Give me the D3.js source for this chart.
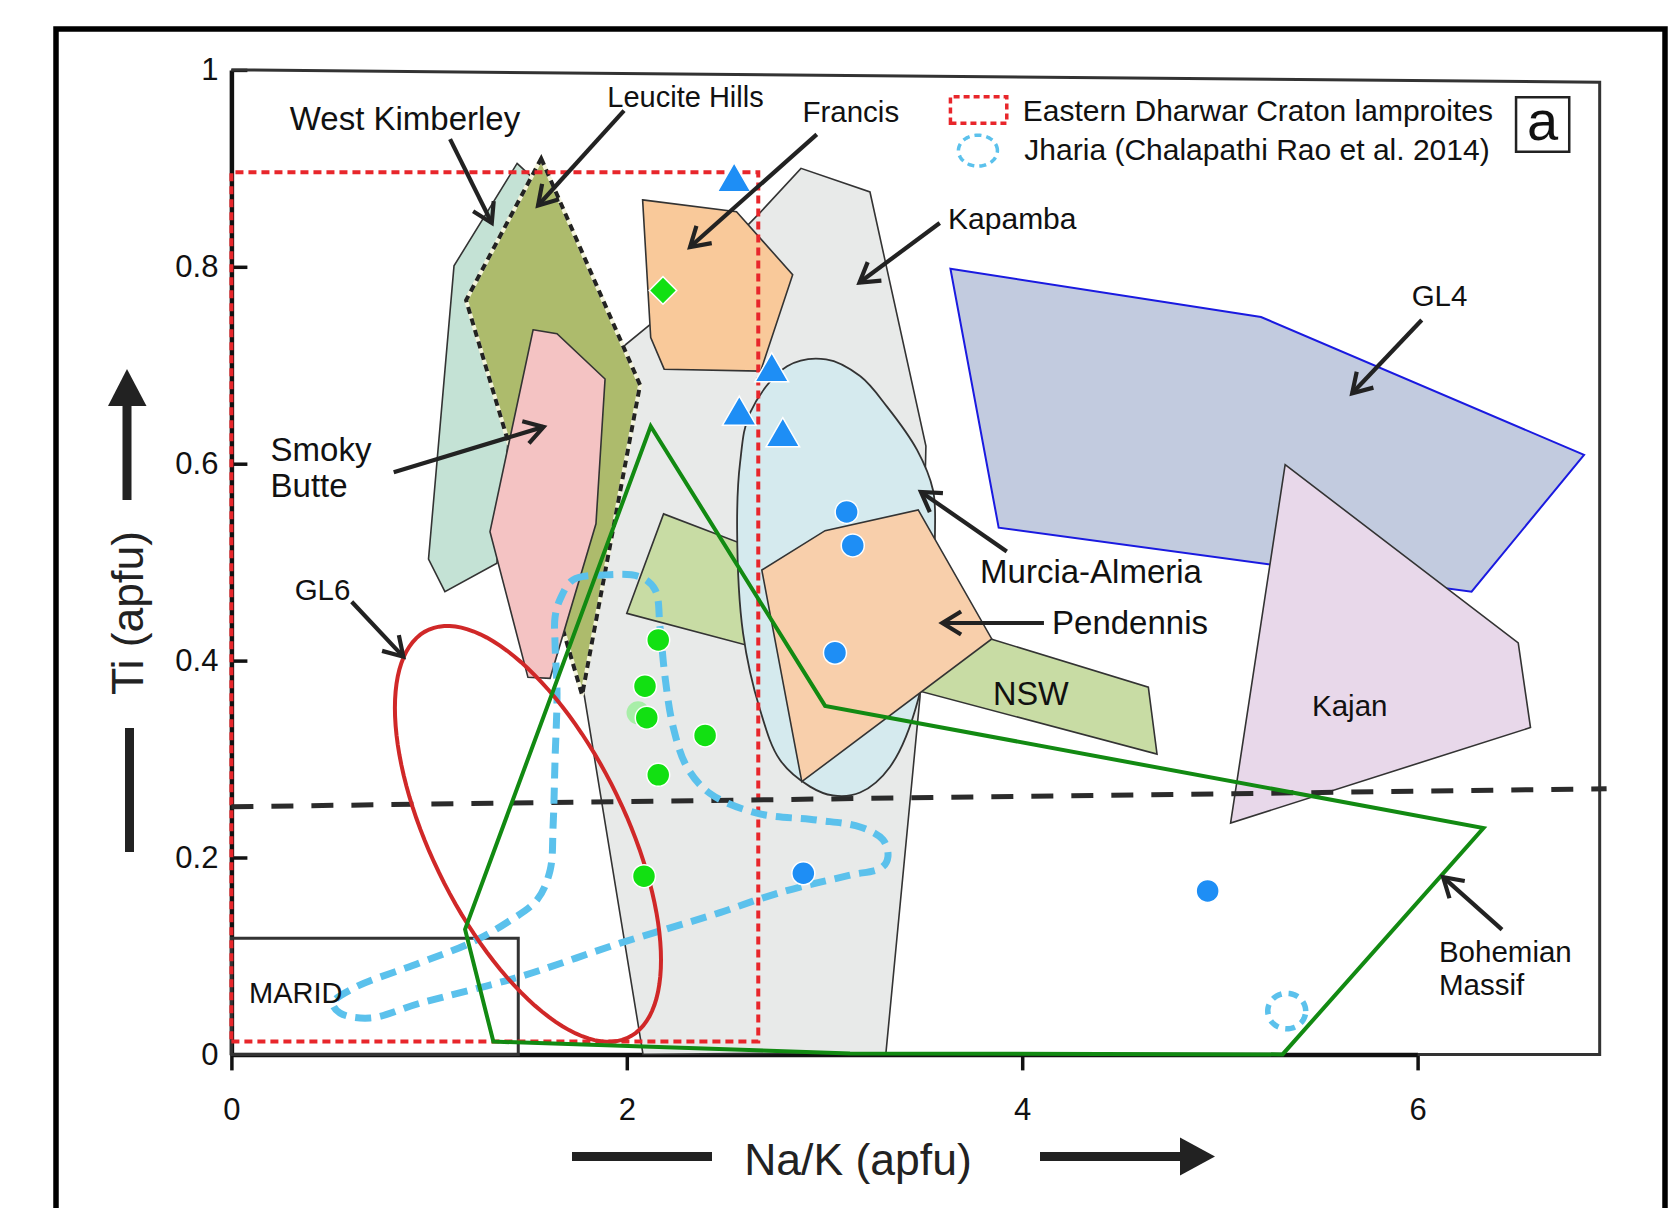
<!DOCTYPE html>
<html><head><meta charset="utf-8">
<script src="https://cdn.jsdelivr.net/npm/d3@7"></script>
<style>
html,body{margin:0;padding:0;background:#fff;}
svg{display:block;font-family:"Liberation Sans",Arial,Helvetica,sans-serif;}
</style></head><body>
<svg id="chart" width="1678" height="1208"></svg>
<script>
// ---------- field outlines, vertices as [Na/K, Ti] (apfu) ----------
const kapamba      = [[2.082,0.000],[1.778,0.373],[1.814,0.563],[1.970,0.717],[2.122,0.742],[2.674,0.855],[2.881,0.900],[3.230,0.876],[3.513,0.618],[3.483,0.363],[3.311,0.002]];
const westKimberley= [[1.445,0.905],[1.536,0.888],[1.409,0.644],[1.343,0.499],[1.080,0.470],[0.997,0.503],[1.126,0.801]];
const leuciteHills = [[1.567,0.910],[2.067,0.680],[1.774,0.365],[1.390,0.629],[1.187,0.766]];
const smokyButte   = [[1.526,0.736],[1.647,0.732],[1.890,0.686],[1.844,0.539],[1.612,0.382],[1.500,0.383],[1.308,0.531]];
const francis      = [[2.080,0.868],[2.555,0.856],[2.839,0.792],[2.677,0.694],[2.189,0.696],[2.121,0.728]];
const nsw          = [[2.000,0.448],[2.186,0.549],[3.842,0.422],[4.638,0.373],[4.682,0.305]];
const murciaAlmeria= [[3.008,0.706],[3.180,0.689],[3.316,0.658],[3.468,0.614],[3.549,0.573],[3.559,0.533],[3.534,0.452],[3.473,0.360],[3.331,0.292],[3.180,0.266],[3.043,0.263],[2.927,0.272],[2.775,0.299],[2.674,0.350],[2.588,0.428],[2.558,0.533],[2.573,0.601],[2.624,0.652],[2.811,0.699]];
const pendennis    = [[2.683,0.492],[3.003,0.532],[3.474,0.553],[3.846,0.422],[2.885,0.277]];
const gl4          = [[3.637,0.798],[5.208,0.749],[6.842,0.609],[6.273,0.470],[3.881,0.535]];
const kajan        = [[5.330,0.599],[6.509,0.418],[6.571,0.332],[5.054,0.235]];
const bohemian     = [[2.121,0.638],[3.003,0.354],[6.333,0.230],[5.317,0.000],[3.129,0.001],[1.325,0.013],[1.182,0.127]];
const jharia       = [[1.662,0.462],[1.728,0.482],[1.880,0.487],[2.067,0.485],[2.143,0.472],[2.168,0.434],[2.193,0.384],[2.234,0.333],[2.304,0.292],[2.421,0.265],[2.658,0.245],[2.962,0.238],[3.180,0.231],[3.296,0.218],[3.321,0.201],[3.291,0.190],[3.129,0.182],[2.876,0.170],[2.689,0.159],[2.471,0.144],[1.966,0.113],[1.460,0.079],[0.954,0.052],[0.701,0.037],[0.549,0.042],[0.514,0.052],[0.615,0.067],[0.954,0.093],[1.207,0.113],[1.394,0.134],[1.546,0.157],[1.612,0.187],[1.627,0.231],[1.637,0.299],[1.647,0.367],[1.637,0.418],[1.637,0.444]];
// ellipses: centre and two conjugate radius vectors (apfu)
const gl6Ellipse    = [1.500, 0.224, 0.673, -0.128, 0.000, -0.168];
const jhariaSmall   = [5.338, 0.044, 0.096, 0.000, 0.000, 0.018];
// reference boxes [x0, y0, x1, y1]
const edcBox   = [0, 0.013, 2.665, 0.896];
const maridBox = [0, 0, 1.451, 0.118];
// dividing line [x, Ti]
const divideLine = [[0, 0.2516],[6.956, 0.2698]];

// ---------- analysed samples ----------
const blueTriangles = [[2.543,0.886],[2.733,0.693],[2.569,0.649],[2.789,0.627]];
const blueCircles   = [[3.112,0.551],[3.143,0.517],[3.053,0.408],[2.893,0.184],[4.938,0.166]];
const greenCircles  = [[2.159,0.421],[2.092,0.374],[2.101,0.342],[2.396,0.324],[2.159,0.284],[2.087,0.181]];
const greenShadow   = [[2.067,0.346]];
const greenDiamonds = [[2.183,0.776]];

// ---------- axes ----------
const xTicks = [0, 2, 4, 6];
const xTickLabels = ["0", "2", "4", "6"];
const yTicks = [0, 0.2, 0.4, 0.6, 0.8, 1];
const yTickLabels = ["0", "0.2", "0.4", "0.6", "0.8", "1"];

// ---------- annotations ----------
const fieldLabels = [
  {t:"West Kimberley", x:0.878, y:0.9385, s:33, a:"middle"},
  {t:"Leucite Hills",  x:2.297, y:0.9626, s:29, a:"middle"},
  {t:"Francis",        x:3.133, y:0.9466, s:29.5, a:"middle"},
  {t:"Kapamba",        x:3.625, y:0.8382, s:30, a:"start"},
  {t:"GL4",            x:6.111, y:0.7599, s:29.5, a:"middle"},
  {t:"Smoky",          x:0.198, y:0.6032, s:33, a:"start"},
  {t:"Butte",          x:0.198, y:0.5662, s:33, a:"start"},
  {t:"Murcia-Almeria", x:3.787, y:0.4788, s:33, a:"start"},
  {t:"Pendennis",      x:4.151, y:0.4270, s:33, a:"start"},
  {t:"NSW",            x:3.852, y:0.3544, s:32.5, a:"start"},
  {t:"Kajan",          x:5.466, y:0.3437, s:29.5, a:"start"},
  {t:"Bohemian",       x:6.108, y:0.0941, s:29.5, a:"start"},
  {t:"Massif",         x:6.108, y:0.0606, s:29.5, a:"start"},
  {t:"GL6",            x:0.320, y:0.4616, s:29.5, a:"start"},
  {t:"MARID",          x:0.089, y:0.0525, s:29, a:"start"}
];
const arrows = [
  [[1.106,0.9297],[1.317,0.8445]],
  [[1.986,0.9586],[1.551,0.8623]],
  [[2.961,0.9345],[2.320,0.8201]],
  [[3.583,0.8445],[3.177,0.7840]],
  [[6.021,0.7460],[5.669,0.6715]],
  [[0.821,0.5913],[1.579,0.6374]],
  [[3.922,0.5109],[3.488,0.5713]],
  [[4.110,0.4382],[3.596,0.4382]],
  [[0.6085,0.4598],[0.8695,0.4040]],
  [[6.427,0.1268],[6.129,0.1800]]
];
const legendItems = [
  {t:"Eastern Dharwar Craton lamproites", x:4.003, y:0.9485},
  {t:"Jharia (Chalapathi Rao et al. 2014)", x:4.011, y:0.9085}
];
const legendBox = [3.637, 0.9458, 3.922, 0.9727];
const legendRing = [3.776, 0.918, 0.0986, 0, 0, 0.0157];
const panelBox = [6.498, 0.9169, 6.767, 0.9722];
const panelLetter = {t:"a", x:6.632, y:0.9288};
const plotCorner = [6.921, 0.9875];

// ---------- drawing ----------
const svg = d3.select("#chart");
const x = d3.scaleLinear().domain([0, 6]).range([231.4, 1417.6]);
const y = d3.scaleLinear().domain([0, 1]).range([1054.4, 69.9]);

const poly = d3.line().x(d => x(d[0])).y(d => y(d[1])).curve(d3.curveLinearClosed);
const smooth = d3.line().x(d => x(d[0])).y(d => y(d[1])).curve(d3.curveCatmullRomClosed.alpha(0.5));
const open = d3.line().x(d => x(d[0])).y(d => y(d[1]));

function ellipsePts(e, n = 120) {
  const pts = [];
  for (let i = 0; i < n; i++) {
    const t = 2 * Math.PI * i / n, c = Math.cos(t), s = Math.sin(t);
    pts.push([e[0] + e[2] * c + e[4] * s, e[1] + e[3] * c + e[5] * s]);
  }
  return pts;
}
function boxPts(b) { return [[b[0], b[1]], [b[2], b[1]], [b[2], b[3]], [b[0], b[3]]]; }

// outer panel frame
svg.append("rect").attr("class", "panel").attr("x", 56).attr("y", 29).attr("width", 1609).attr("height", 1240)
  .attr("fill", "none").attr("stroke", "#000").attr("stroke-width", 5.5);

// axes first, so the field outlines sit on top of the axis line
const xAxis = d3.axisBottom(x).tickValues(xTicks).tickFormat((d, i) => xTickLabels[i]).tickSizeInner(16).tickSizeOuter(0).tickPadding(28);
const yAxis = d3.axisLeft(y).tickValues(yTicks).tickFormat((d, i) => yTickLabels[i]).tickSizeInner(-16).tickSizeOuter(0).tickPadding(13);
const gx = svg.append("g").attr("transform", `translate(0,${y(0)})`).call(xAxis);
const gy = svg.append("g").attr("transform", `translate(${x(0)},0)`).call(yAxis);
[gx, gy].forEach(a => {
  a.select(".domain").attr("stroke", "#111").attr("stroke-width", 4.5);
  a.selectAll(".tick line").attr("stroke", "#111").attr("stroke-width", 3.5);
  a.selectAll(".tick text").attr("font-size", 31).attr("fill", "#111").attr("font-family", "'Liberation Sans',Arial,sans-serif");
});

const g = svg.append("g");

// plot frame (top, right, lower-right)
g.append("path")
  .attr("d", open([[0, 1], plotCorner, [plotCorner[0], 0], [6, 0]]))
  .attr("fill", "none").attr("stroke", "#333").attr("stroke-width", 3);

// filled fields
[
  {d: kapamba, fill: "#e8eae9"},
  {d: westKimberley, fill: "#c4e2d5"}
].forEach(f => g.append("path").attr("d", poly(f.d)).attr("fill", f.fill).attr("stroke", "#333").attr("stroke-width", 1.6));

g.append("path").attr("d", poly(leuciteHills)).attr("fill", "#adbb6c").attr("stroke", "#f4f4dc").attr("stroke-width", 4);
g.append("path").attr("d", poly(leuciteHills)).attr("fill", "none").attr("stroke", "#222").attr("stroke-width", 4).attr("stroke-dasharray", "7,5");

[
  {d: smokyButte, fill: "#f4c3c3"},
  {d: francis, fill: "#f9c99a"},
  {d: nsw, fill: "#c8dca4"}
].forEach(f => g.append("path").attr("d", poly(f.d)).attr("fill", f.fill).attr("stroke", "#333").attr("stroke-width", 1.6));

g.append("path").attr("d", smooth(murciaAlmeria)).attr("fill", "#d5eaee").attr("stroke", "#333").attr("stroke-width", 1.8);
g.append("path").attr("d", poly(pendennis)).attr("fill", "#f8cfab").attr("stroke", "#333").attr("stroke-width", 1.6);
g.append("path").attr("d", poly(gl4)).attr("fill", "#c2cbdf").attr("stroke", "#1a1ae0").attr("stroke-width", 2);
g.append("path").attr("d", poly(kajan)).attr("fill", "#e8d8ea").attr("stroke", "#333").attr("stroke-width", 1.6);

// MARID box
g.append("path").attr("d", poly(boxPts(maridBox))).attr("fill", "none").attr("stroke", "#333").attr("stroke-width", 3);

// Eastern Dharwar Craton lamproite box
g.append("path").attr("d", poly(boxPts(edcBox))).attr("fill", "none").attr("stroke", "#e8262b").attr("stroke-width", 4).attr("stroke-dasharray", "8,5");

// dividing line
g.append("path").attr("d", open(divideLine)).attr("fill", "none").attr("stroke", "#2b2b2b").attr("stroke-width", 5).attr("stroke-dasharray", "22,18");

// Jharia field
g.append("path").attr("d", smooth(jharia)).attr("fill", "none").attr("stroke", "#5bc1ec").attr("stroke-width", 7).attr("stroke-dasharray", "16,9");
g.append("path").attr("d", poly(ellipsePts(jhariaSmall))).attr("fill", "none").attr("stroke", "#5bc1ec").attr("stroke-width", 5.5).attr("stroke-dasharray", "10,7");

// GL6 ellipse
g.append("path").attr("d", poly(ellipsePts(gl6Ellipse))).attr("fill", "none").attr("stroke", "#d02828").attr("stroke-width", 4);

// Bohemian Massif
g.append("path").attr("d", poly(bohemian)).attr("fill", "none").attr("stroke", "#128a12").attr("stroke-width", 4).attr("stroke-linejoin", "miter");

// samples
const m = svg.append("g");
m.selectAll(".gs").data(greenShadow).join("circle").attr("class","gs").attr("cx", d => x(d[0]) - 2).attr("cy", d => y(d[1]) - 1).attr("r", 11.5).attr("fill", "#a8eea8");
m.selectAll(".gc").data(greenCircles).join("circle").attr("class","gc").attr("cx", d => x(d[0])).attr("cy", d => y(d[1])).attr("r", 11.5)
  .attr("fill", "#12e012").attr("stroke", "#fff").attr("stroke-width", 1.5);
m.selectAll(".bc").data(blueCircles).join("circle").attr("class","bc").attr("cx", d => x(d[0])).attr("cy", d => y(d[1])).attr("r", 11.5)
  .attr("fill", "#1e8ef5").attr("stroke", "#fff").attr("stroke-width", 1.5);
m.selectAll(".bt").data(blueTriangles).join("path").attr("class","bt")
  .attr("transform", d => `translate(${x(d[0])},${y(d[1])})`)
  .attr("d", d3.symbol(d3.symbolTriangle, 490))
  .attr("fill", "#1e8ef5").attr("stroke", "#fff").attr("stroke-width", 1.5);
m.selectAll(".gd").data(greenDiamonds).join("path").attr("class","gd")
  .attr("transform", d => `translate(${x(d[0])},${y(d[1])}) rotate(45)`)
  .attr("d", d3.symbol(d3.symbolSquare, 380))
  .attr("fill", "#12e012").attr("stroke", "#fff").attr("stroke-width", 1.5);

// labels
const lab = svg.append("g").attr("fill", "#111");
lab.selectAll("text.fl").data(fieldLabels).join("text").attr("class","fl")
  .attr("x", d => x(d.x)).attr("y", d => y(d.y)).attr("font-size", d => d.s).attr("text-anchor", d => d.a).text(d => d.t);

// arrows with open heads
const ar = svg.append("g").attr("stroke", "#222").attr("stroke-width", 4.2).attr("fill", "none").attr("stroke-linecap", "butt");
arrows.forEach(a => {
  const x1 = x(a[0][0]), y1 = y(a[0][1]), x2 = x(a[1][0]), y2 = y(a[1][1]);
  const ang = Math.atan2(y2 - y1, x2 - x1), L = 22, sp = 0.55;
  ar.append("line").attr("x1", x1).attr("y1", y1).attr("x2", x2).attr("y2", y2);
  ar.append("path").attr("d",
    `M${x2 - L * Math.cos(ang - sp)},${y2 - L * Math.sin(ang - sp)}L${x2},${y2}L${x2 - L * Math.cos(ang + sp)},${y2 - L * Math.sin(ang + sp)}`)
    .attr("stroke-linejoin", "miter");
});

// legend
const lg = svg.append("g");
lg.append("path").attr("d", poly([[legendBox[0], legendBox[1]], [legendBox[2], legendBox[1]], [legendBox[2], legendBox[3]], [legendBox[0], legendBox[3]]]))
  .attr("fill", "none").attr("stroke", "#e8262b").attr("stroke-width", 3.5).attr("stroke-dasharray", "6,4");
lg.append("path").attr("d", poly(ellipsePts(legendRing))).attr("fill", "none").attr("stroke", "#5bc1ec").attr("stroke-width", 3.5).attr("stroke-dasharray", "7,5");
lg.selectAll("text").data(legendItems).join("text").attr("x", d => x(d.x)).attr("y", d => y(d.y))
  .attr("font-size", 30).attr("fill", "#111").text(d => d.t);

// panel letter
lg.append("path").attr("d", poly(boxPts(panelBox)))
  .attr("fill", "#fff").attr("stroke", "#222").attr("stroke-width", 2.5);
lg.append("text").attr("x", x(panelLetter.x)).attr("y", y(panelLetter.y)).attr("text-anchor", "middle")
  .attr("font-size", 56).attr("fill", "#111").text(panelLetter.t);

// axis titles with direction arrows
const at = svg.append("g").attr("fill", "#222");
at.append("text").attr("x", 858).attr("y", 1175).attr("text-anchor", "middle").attr("font-size", 44.5).text("Na/K (apfu)");
at.append("rect").attr("x", 572).attr("y", 1152).attr("width", 140).attr("height", 9);
at.append("rect").attr("x", 1040).attr("y", 1152).attr("width", 142).attr("height", 9);
at.append("path").attr("d", "M1180,1137.5L1215,1156.5L1180,1175.5Z");
at.append("text").attr("transform", "translate(143,613) rotate(-90)").attr("text-anchor", "middle").attr("font-size", 44.5).text("Ti (apfu)");
at.append("rect").attr("x", 125).attr("y", 728).attr("width", 9).attr("height", 124);
at.append("rect").attr("x", 122.5).attr("y", 402).attr("width", 9).attr("height", 98);
at.append("path").attr("d", "M108,406L127,369L146.5,406Z");
</script>
</body></html>
